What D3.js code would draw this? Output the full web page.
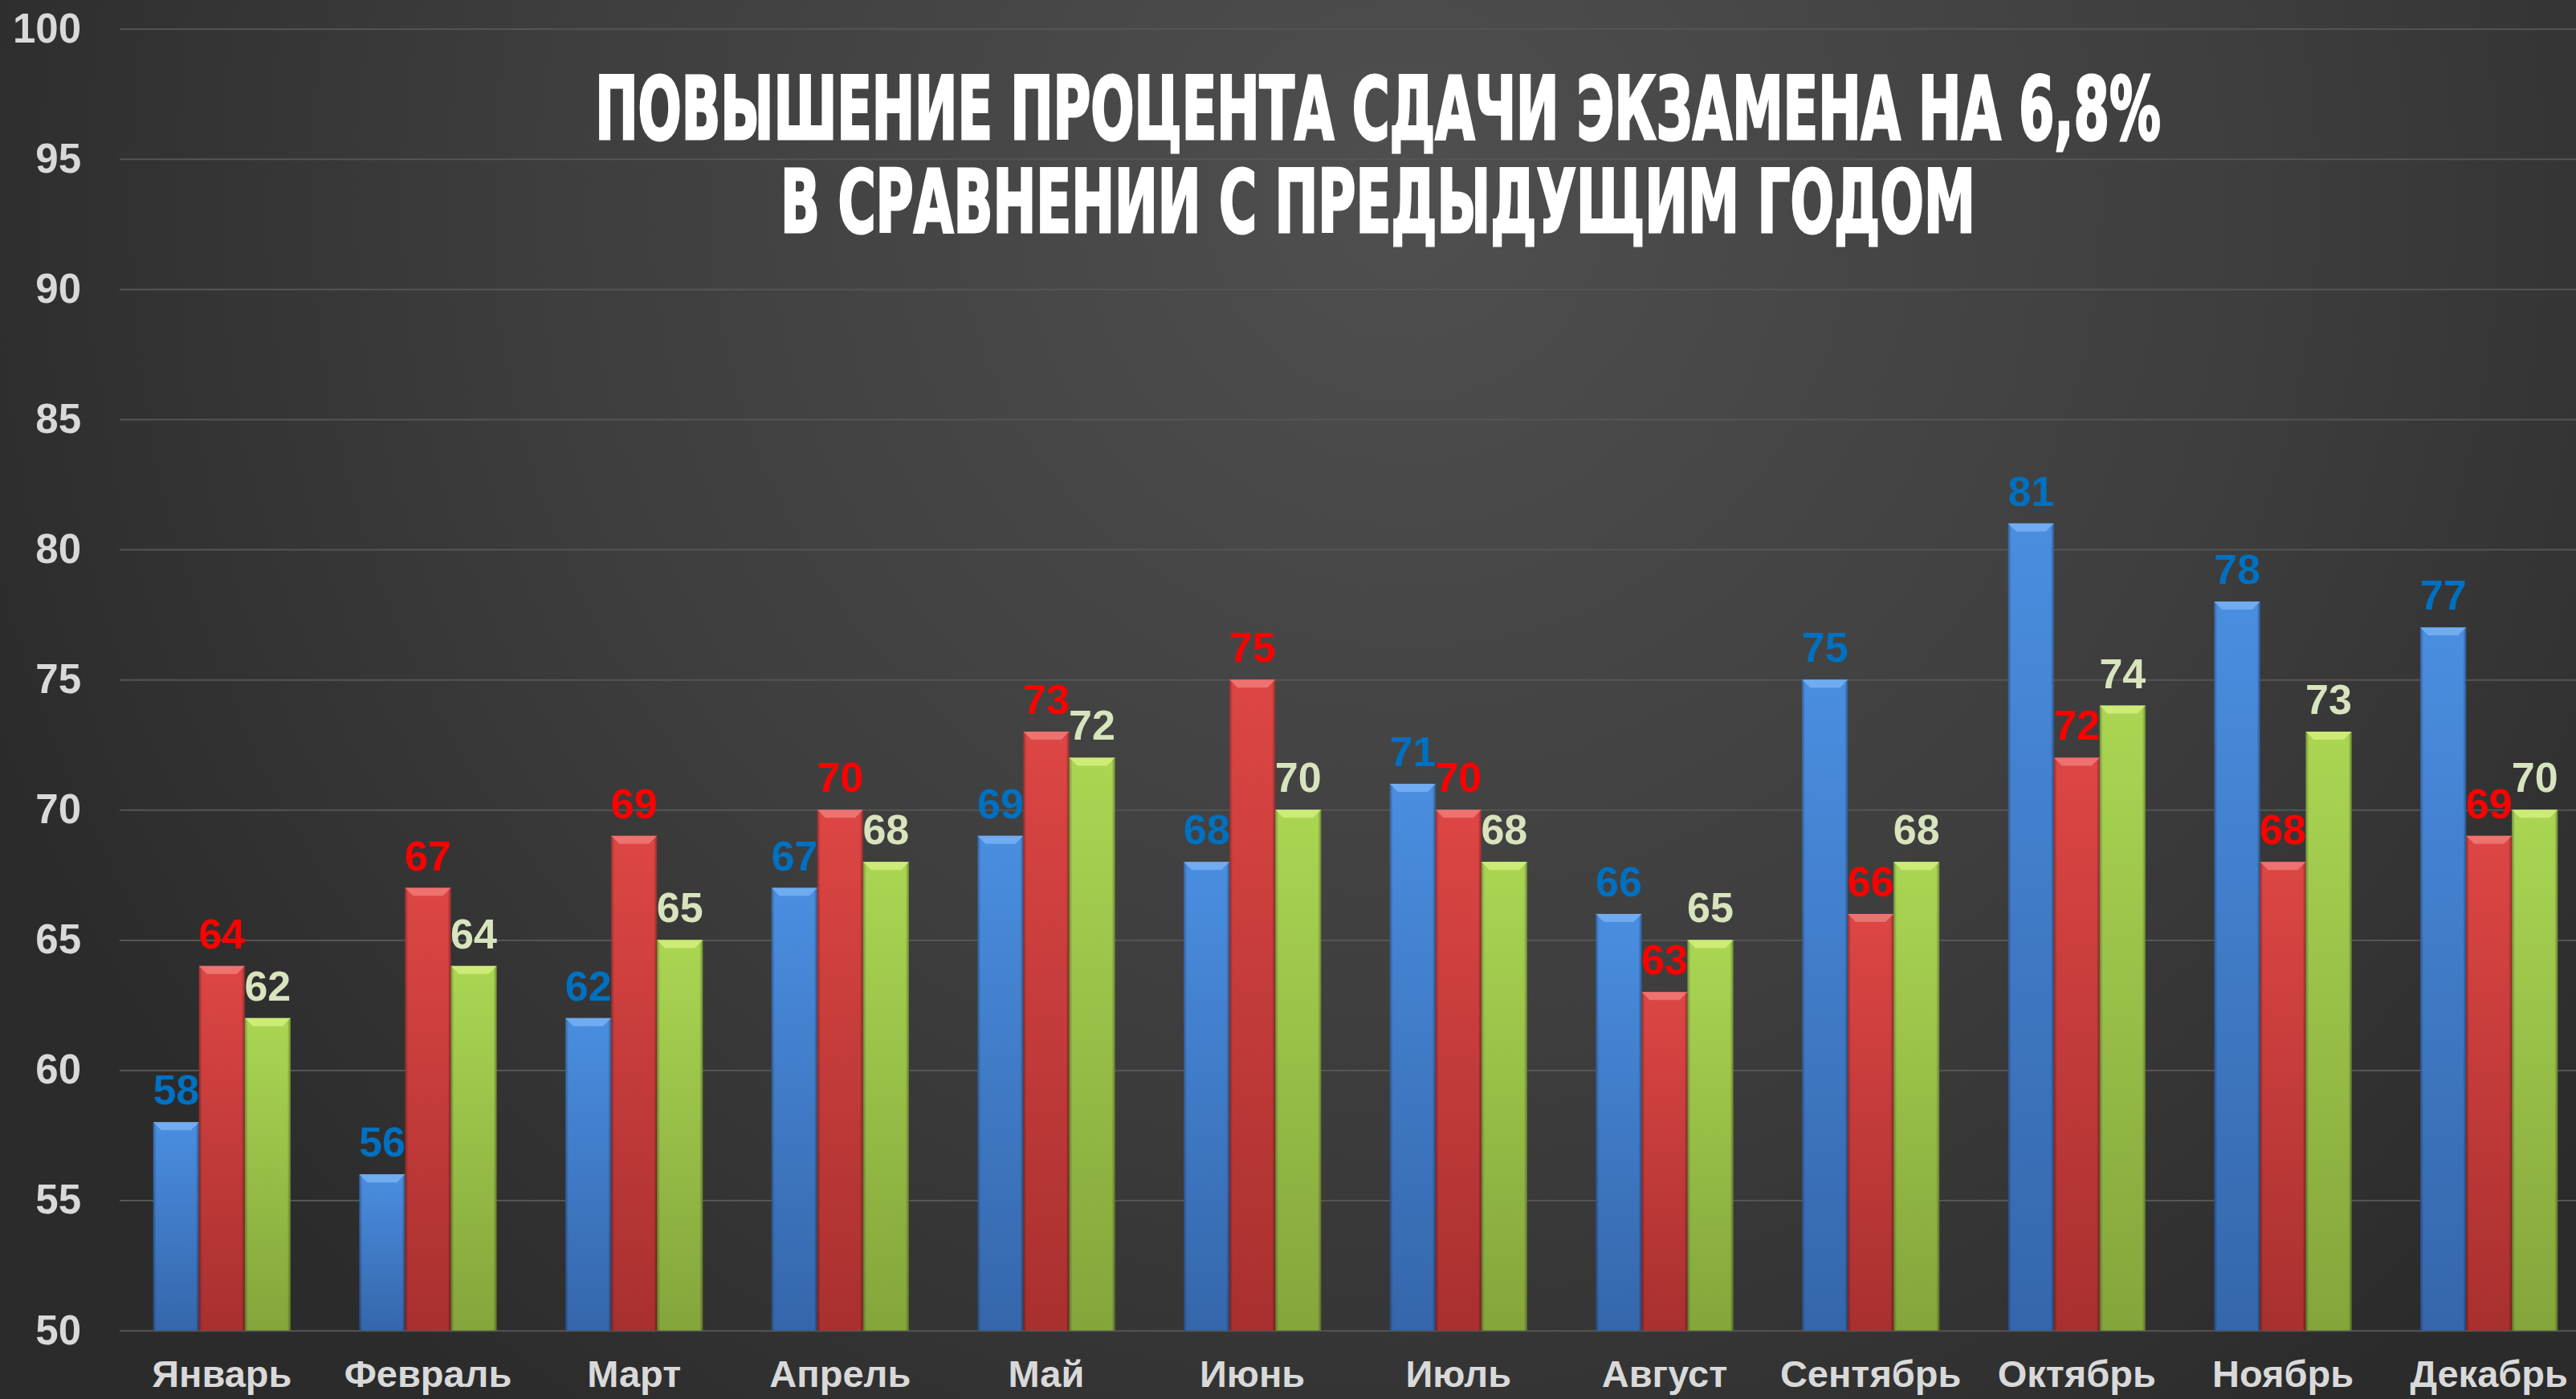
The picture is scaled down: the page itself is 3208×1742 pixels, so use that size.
<!DOCTYPE html>
<html>
<head>
<meta charset="utf-8">
<script src="https://cdn.jsdelivr.net/npm/d3@7"></script>
<style>
  body { margin: 0; background: #333; overflow: hidden; }
  svg { display: block; }
</style>
</head>
<body>
<div id="chart"></div>
<script>
const months = ["Январь", "Февраль", "Март", "Апрель", "Май", "Июнь", "Июль", "Август", "Сентябрь", "Октябрь", "Ноябрь", "Декабрь"];
const seriesNames = ["s1", "s2", "s3"];
const blueValues = [58, 56, 62, 67, 69, 68, 71, 66, 75, 81, 78, 77];
const redValues = [64, 67, 69, 70, 73, 75, 70, 63, 66, 72, 68, 69];
const greenValues = [62, 64, 65, 68, 72, 70, 68, 65, 68, 74, 73, 70];
const yTicks = [50, 55, 60, 65, 70, 75, 80, 85, 90, 95, 100];
const titleLines = ["ПОВЫШЕНИЕ ПРОЦЕНТА СДАЧИ ЭКЗАМЕНА НА 6,8%", "В СРАВНЕНИИ С ПРЕДЫДУЩИМ ГОДОМ"];
const titleWidths = [1950, 1488];

const W = 3208, H = 1742;
const plotLeft = 149, plotRight = 3228, plotTop = 35.7, plotBottom = 1656.7;

// colours per series: top, bottom, bevel, label
const styles = {
  s1: { top: "#4a8ee0", bottom: "#3566ab", bevel: "#78b2f4", label: "#0070c0" },
  s2: { top: "#dd4644", bottom: "#a8302f", bevel: "#f07a78", label: "#ff0000" },
  s3: { top: "#aad653", bottom: "#84a53b", bevel: "#d2f07c", label: "#d7e4bd" }
};

const data = months.map((m, i) => ({
  month: m,
  values: [
    { key: "s1", value: blueValues[i] },
    { key: "s2", value: redValues[i] },
    { key: "s3", value: greenValues[i] }
  ]
}));

const svg = d3.select("#chart").append("svg")
  .attr("width", W)
  .attr("height", H);

const defs = svg.append("defs");

const bg = defs.append("radialGradient")
  .attr("id", "bg")
  .attr("gradientUnits", "userSpaceOnUse")
  .attr("cx", 1750).attr("cy", 250).attr("r", 1900);
bg.append("stop").attr("offset", 0).attr("stop-color", "#4f4f4f");
bg.append("stop").attr("offset", 0.55).attr("stop-color", "#3e3e3e");
bg.append("stop").attr("offset", 1).attr("stop-color", "#2b2b2b");

seriesNames.forEach(k => {
  const g = defs.append("linearGradient")
    .attr("id", "grad-" + k)
    .attr("x1", 0).attr("y1", 0).attr("x2", 0).attr("y2", 1);
  g.append("stop").attr("offset", 0).attr("stop-color", styles[k].top);
  g.append("stop").attr("offset", 1).attr("stop-color", styles[k].bottom);
});

const edge = defs.append("linearGradient")
  .attr("id", "edge")
  .attr("x1", 0).attr("y1", 0).attr("x2", 1).attr("y2", 0);
edge.append("stop").attr("offset", 0).attr("stop-color", "#000").attr("stop-opacity", 0.3);
edge.append("stop").attr("offset", 0.07).attr("stop-color", "#000").attr("stop-opacity", 0);
edge.append("stop").attr("offset", 0.93).attr("stop-color", "#000").attr("stop-opacity", 0);
edge.append("stop").attr("offset", 1).attr("stop-color", "#000").attr("stop-opacity", 0.35);

svg.append("rect")
  .attr("width", W)
  .attr("height", H)
  .attr("fill", "url(#bg)");

const x = d3.scaleBand()
  .domain(months)
  .range([plotLeft - 1, plotRight])
  .paddingInner(1 / 3)
  .paddingOuter(1 / 6);

const xs = d3.scaleBand()
  .domain(seriesNames)
  .range([0, x.bandwidth()]);

const y = d3.scaleLinear()
  .domain([50, 100])
  .range([plotBottom, plotTop]);

// gridlines + y labels
const yAxis = svg.append("g")
  .attr("transform", `translate(${plotLeft},0)`)
  .call(d3.axisLeft(y).tickValues(yTicks).tickSize(-(W - plotLeft)).tickPadding(48));
yAxis.select(".domain").remove();
yAxis.selectAll(".tick line")
  .attr("stroke", "#555")
  .attr("stroke-width", 2);
yAxis.selectAll(".tick text")
  .attr("fill", "#d9d9d9")
  .attr("font-family", "'Liberation Sans', Arial, sans-serif")
  .attr("font-weight", "bold")
  .attr("font-size", 51);

// title: condensed bold, squeezed to the reference width
const titles = svg.selectAll(".title")
  .data(titleLines)
  .join("text")
  .attr("class", "title")
  .attr("text-anchor", "middle")
  .attr("fill", "#ffffff")
  .attr("stroke", "#ffffff")
  .attr("stroke-width", 3)
  .attr("font-family", "'DejaVu Sans Condensed', 'DejaVu Sans', sans-serif")
  .attr("font-weight", "bold")
  .attr("font-size", 108)
  .text(d => d);

titles.each(function(d, i) {
  const len = this.getComputedTextLength();
  const k = titleWidths[i] / len;
  d3.select(this)
    .attr("x", 0)
    .attr("y", 0)
    .attr("transform", `translate(1716,${173 + i * 116}) scale(${k},1)`);
});

// bars
const groups = svg.append("g")
  .selectAll("g")
  .data(data)
  .join("g")
  .attr("transform", d => `translate(${x(d.month)},0)`);

const bars = groups.selectAll("g.bar")
  .data(d => d.values)
  .join("g")
  .attr("class", "bar");

bars.append("rect")
  .attr("x", d => xs(d.key))
  .attr("y", d => y(d.value))
  .attr("width", xs.bandwidth())
  .attr("height", d => y(50) - y(d.value))
  .attr("fill", d => `url(#grad-${d.key})`);

bars.append("rect")
  .attr("x", d => xs(d.key))
  .attr("y", d => y(d.value))
  .attr("width", xs.bandwidth())
  .attr("height", d => y(50) - y(d.value))
  .attr("fill", "url(#edge)");

const bev = 10;
bars.append("polygon")
  .attr("points", d => {
    const x0 = xs(d.key), x1 = x0 + xs.bandwidth(), y0 = y(d.value);
    return [[x0, y0], [x1, y0], [x1 - bev, y0 + bev], [x0 + bev, y0 + bev]].join(" ");
  })
  .attr("fill", d => styles[d.key].bevel)
  .attr("opacity", 0.85);

// data labels
groups.selectAll("text.val")
  .data(d => d.values)
  .join("text")
  .attr("class", "val")
  .attr("x", d => xs(d.key) + xs.bandwidth() / 2)
  .attr("y", d => y(d.value) - 22)
  .attr("text-anchor", "middle")
  .attr("fill", d => styles[d.key].label)
  .attr("font-family", "'Liberation Sans', Arial, sans-serif")
  .attr("font-weight", "bold")
  .attr("font-size", 52)
  .text(d => d.value);

// x labels
svg.append("g")
  .selectAll("text")
  .data(months)
  .join("text")
  .attr("x", d => x(d) + x.bandwidth() / 2)
  .attr("y", 1727)
  .attr("text-anchor", "middle")
  .attr("fill", "#d9d9d9")
  .attr("font-family", "'Liberation Sans', Arial, sans-serif")
  .attr("font-weight", "bold")
  .attr("font-size", 47)
  .text(d => d);
</script>
</body>
</html>
